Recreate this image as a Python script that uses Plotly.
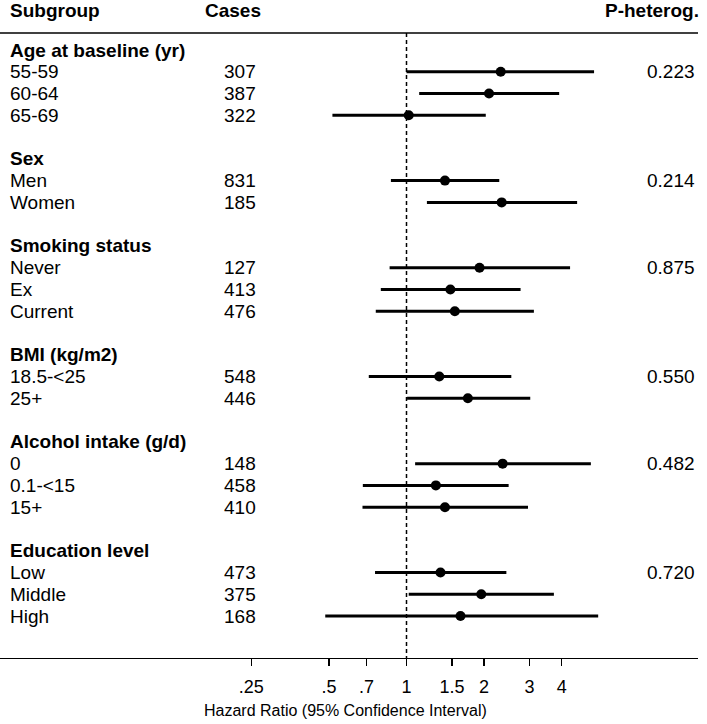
import plotly.graph_objects as go

# ---------------- data ----------------
groups = ["Age at baseline (yr)", "Sex", "Smoking status", "BMI (kg/m2)",
          "Alcohol intake (g/d)", "Education level"]
subgroups = [["55-59", "60-64", "65-69"],
             ["Men", "Women"],
             ["Never", "Ex", "Current"],
             ["18.5-<25", "25+"],
             ["0", "0.1-<15", "15+"],
             ["Low", "Middle", "High"]]
cases = [[307, 387, 322],
         [831, 185],
         [127, 413, 476],
         [548, 446],
         [148, 458, 410],
         [473, 375, 168]]
hr = [[2.32, 2.09, 1.02],
      [1.41, 2.34],
      [1.92, 1.48, 1.54],
      [1.34, 1.73],
      [2.36, 1.30, 1.41],
      [1.355, 1.95, 1.62]]
ci_low = [[1.00, 1.12, 0.516],
          [0.87, 1.20],
          [0.86, 0.795, 0.76],
          [0.714, 1.005],
          [1.08, 0.677, 0.675],
          [0.755, 1.02, 0.484]]
ci_high = [[5.34, 3.91, 2.03],
           [2.29, 4.59],
           [4.31, 2.77, 3.12],
           [2.55, 3.02],
           [5.19, 2.49, 2.96],
           [2.44, 3.73, 5.54]]
p_het = ["0.223", "0.214", "0.875", "0.550", "0.482", "0.720"]
tick_vals = [0.25, 0.5, 0.7, 1, 1.5, 2, 3, 4]
tick_text = [".25", ".5", ".7", "1", "1.5", "2", "3", "4"]

# ---------------- layout helpers ----------------
W, H = 707, 724
PLOT_W = 698          # plot area width in px (left margin 0)
PLOT_H = 658          # plot area height in px (top margin 0)
ROW0_PX = 50.0
ROW_STEP = 21.77

def row_of(px):
    return (px - ROW0_PX) / ROW_STEP

def px_x(px):
    return px / PLOT_W

FONT = "Liberation Sans, Arial, Helvetica, sans-serif"
TXT = 19

fig = go.Figure()
annotations = []

def add_text(text, xpx, row, anchor="left", bold=False, size=TXT):
    annotations.append(dict(
        text=("<b>%s</b>" % text) if bold else text,
        x=px_x(xpx), xref="paper", y=row, yref="y",
        xanchor=anchor, yanchor="middle", showarrow=False,
        font=dict(family=FONT, size=size, color="black")))

# column headers
hdr_row = row_of(10)
add_text("Subgroup", 7.5, hdr_row, bold=True)
add_text("Cases", 203, hdr_row, bold=True)
add_text("P-heterog.", 701, hdr_row, anchor="right", bold=True)

line_x, line_y = [], []
pt_x, pt_y = [], []
row = 0
for g, name in enumerate(groups):
    add_text(name, 7.5, row, bold=True)
    row += 1
    for i, sg in enumerate(subgroups[g]):
        add_text(sg, 7.5, row)
        add_text(str(cases[g][i]), 222, row)
        if i == 0:
            add_text(p_het[g], 697, row, anchor="right")
        line_x += [ci_low[g][i], ci_high[g][i], None]
        line_y += [row, row, None]
        pt_x.append(hr[g][i])
        pt_y.append(row)
        row += 1
    row += 1

top_row = row_of(33)
bot_row = row_of(PLOT_H)

# reference line at HR = 1
fig.add_trace(go.Scatter(x=[1, 1], y=[top_row, bot_row], mode="lines",
                         line=dict(color="black", width=1.5, dash="4px,3px"),
                         hoverinfo="skip", showlegend=False))
# confidence intervals
fig.add_trace(go.Scatter(x=line_x, y=line_y, mode="lines",
                         line=dict(color="black", width=3),
                         hoverinfo="skip", showlegend=False))
# point estimates
fig.add_trace(go.Scatter(x=pt_x, y=pt_y, mode="markers",
                         marker=dict(color="black", size=10, symbol="circle"),
                         showlegend=False))

# header rule
fig.add_shape(type="line", xref="paper", x0=0, x1=1, yref="y",
              y0=top_row, y1=top_row, line=dict(color="black", width=1.3))

# axis title
annotations.append(dict(
    text="Hazard Ratio (95% Confidence Interval)",
    x=px_x(345), xref="paper", y=(PLOT_H - 710) / PLOT_H, yref="paper",
    xanchor="center", yanchor="middle", showarrow=False,
    font=dict(family=FONT, size=16, color="black")))

x_left = -406.5 / 257.8
x_right = (PLOT_W - 406.5) / 257.8

fig.update_layout(
    width=W, height=H,
    margin=dict(l=0, r=W - PLOT_W, t=0, b=H - PLOT_H),
    paper_bgcolor="white", plot_bgcolor="white",
    showlegend=False,
    annotations=annotations,
    xaxis=dict(type="log", range=[x_left, x_right],
               tickvals=tick_vals, ticktext=tick_text,
               ticks="outside", ticklen=7, tickwidth=1.3, tickcolor="black",
               ticklabelstandoff=5,
               showline=True, linecolor="black", linewidth=1.3,
               showgrid=False, zeroline=False,
               tickfont=dict(family=FONT, size=18, color="black")),
    yaxis=dict(range=[bot_row, row_of(0)], visible=False,
               showgrid=False, zeroline=False),
)

fig.write_html("out.html",
               config={"displayModeBar": False, "staticPlot": True},
               post_script="document.body.style.margin='0';"
                           "document.body.style.padding='0';")
